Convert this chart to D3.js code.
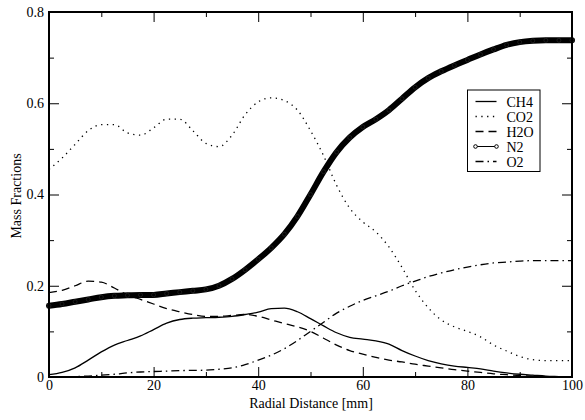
<!DOCTYPE html>
<html>
<head>
<meta charset="utf-8">
<script src="https://cdn.jsdelivr.net/npm/d3@7"></script>
<style>
	body { margin: 0; background: #fff; }
	text { font-family: "Liberation Serif", "Times New Roman", serif; }
</style>
</head>
<body>
<div id="chart"></div>
<script>
"use strict";

//
// Data
//
var radialDistance = [0, 2.5, 5, 7.5, 10, 12.5, 15, 17.5, 20, 22.5,
	25, 27.5, 30, 32.5, 35, 37.5, 40, 42.5, 45, 47.5,
	50, 52.5, 55, 57.5, 60, 62.5, 65, 67.5, 70, 72.5,
	75, 77.5, 80, 82.5, 85, 87.5, 90, 92.5, 95, 97.5, 100];

var ch4 = [0.005, 0.01, 0.02, 0.037, 0.055, 0.07, 0.08, 0.09, 0.104, 0.118,
	0.126, 0.129, 0.13, 0.131, 0.133, 0.137, 0.142, 0.15, 0.151, 0.143,
	0.128, 0.112, 0.097, 0.087, 0.083, 0.079, 0.072, 0.058, 0.046, 0.036,
	0.029, 0.024, 0.021, 0.018, 0.013, 0.009, 0.006, 0.004, 0.002, 0.001, 0];

var co2 = [0.455, 0.48, 0.51, 0.54, 0.553, 0.553, 0.535, 0.53, 0.546, 0.565,
	0.565, 0.54, 0.512, 0.505, 0.53, 0.575, 0.603, 0.612, 0.606, 0.585,
	0.54, 0.485, 0.42, 0.37, 0.34, 0.318, 0.285, 0.24, 0.19, 0.152,
	0.125, 0.11, 0.1, 0.088, 0.07, 0.057, 0.045, 0.038, 0.036, 0.036, 0.036];

var h2o = [0.185, 0.19, 0.2, 0.21, 0.208, 0.195, 0.18, 0.17, 0.16, 0.15,
	0.143, 0.137, 0.133, 0.133, 0.135, 0.137, 0.133, 0.125, 0.117, 0.11,
	0.1, 0.085, 0.07, 0.058, 0.05, 0.043, 0.037, 0.033, 0.028, 0.024,
	0.02, 0.016, 0.013, 0.01, 0.007, 0.005, 0.003, 0.002, 0.001, 0.0005, 0];

var n2 = [0.156, 0.16, 0.165, 0.17, 0.175, 0.178, 0.179, 0.18, 0.18, 0.183,
	0.186, 0.189, 0.192, 0.2, 0.215, 0.235, 0.258, 0.283, 0.313, 0.352,
	0.4, 0.45, 0.493, 0.525, 0.548, 0.565, 0.585, 0.61, 0.635, 0.655,
	0.67, 0.683, 0.695, 0.707, 0.718, 0.728, 0.734, 0.737, 0.738, 0.738, 0.738];

var o2 = [0, 0, 0.001, 0.002, 0.004, 0.006, 0.009, 0.011, 0.012, 0.013,
	0.014, 0.0145, 0.015, 0.017, 0.02, 0.027, 0.037, 0.048, 0.062, 0.08,
	0.1, 0.12, 0.14, 0.155, 0.168, 0.178, 0.188, 0.2, 0.21, 0.22,
	0.228, 0.235, 0.241, 0.246, 0.25, 0.252, 0.254, 0.255, 0.255, 0.255, 0.255];

var seriesNames = ["CH4", "CO2", "H2O", "N2", "O2"];
var seriesValues = [ch4, co2, h2o, n2, o2];

var xMajorTicks = [0, 20, 40, 60, 80, 100];
var xMinorTicks = [10, 30, 50, 70, 90];
var yMajorTicks = [0, 0.2, 0.4, 0.6, 0.8];
var yMinorTicks = [0.1, 0.3, 0.5, 0.7];

//
// Setup Variables
//
var canvasWidth = 585;
var canvasHeight = 420;
var margin = { top: 12, right: 13, bottom: 43, left: 49 };
var width = canvasWidth - margin.left - margin.right;
var height = canvasHeight - margin.top - margin.bottom;

var x = d3.scaleLinear().domain([0, 100]).range([0, width]);
var y = d3.scaleLinear().domain([0, 0.8]).range([height, 0]);

var dashes = {
	CH4: null,
	CO2: "1.3,4.5",
	H2O: "8,5",
	N2: null,
	O2: "8,4,1.5,4"
};

function fmt(d) { return d === 0 ? "0" : d3.format("")(d); }

//
// Draw Canvas
//
var svg = d3.select("#chart")
	.append("svg")
		.attr("width", canvasWidth)
		.attr("height", canvasHeight)
	.append("g")
		.attr("transform", "translate(" + margin.left + "," + margin.top + ")");

//
// Axes (ticks point inward on all four sides)
//
function drawAxis(axis, tf) {
	var g = svg.append("g").attr("transform", tf).call(axis);
	g.select(".domain").remove();
	g.selectAll(".tick line").attr("stroke", "#000").attr("stroke-width", 1);
	g.selectAll("text").attr("fill", "#000").style("font-size", "14px")
		.style("font-family", "'Liberation Serif', 'Times New Roman', serif");
	return g;
}

drawAxis(d3.axisBottom(x).tickValues(xMajorTicks).tickSize(-10).tickPadding(3.5).tickFormat(fmt),
	"translate(0," + height + ")");
drawAxis(d3.axisBottom(x).tickValues(xMinorTicks).tickSize(-5).tickFormat(""),
	"translate(0," + height + ")");
drawAxis(d3.axisTop(x).tickValues(xMajorTicks).tickSize(-10).tickFormat(""), "translate(0,0)");
drawAxis(d3.axisTop(x).tickValues(xMinorTicks).tickSize(-5).tickFormat(""), "translate(0,0)");

drawAxis(d3.axisLeft(y).tickValues(yMajorTicks).tickSize(-10).tickPadding(5).tickFormat(fmt), "translate(0,0)");
drawAxis(d3.axisLeft(y).tickValues(yMinorTicks).tickSize(-5).tickFormat(""), "translate(0,0)");
drawAxis(d3.axisRight(y).tickValues(yMajorTicks).tickSize(-10).tickFormat(""), "translate(" + width + ",0)");
drawAxis(d3.axisRight(y).tickValues(yMinorTicks).tickSize(-5).tickFormat(""), "translate(" + width + ",0)");

//
// Lines
//
var line = d3.line()
	.x(function(d) { return x(d[0]); })
	.y(function(d) { return y(d[1]); })
	.curve(d3.curveMonotoneX);

seriesNames.forEach(function(name, i) {
	var pts = radialDistance.map(function(r, j) { return [r, seriesValues[i][j]]; });
	var path = svg.append("path")
		.datum(pts)
		.attr("fill", "none")
		.attr("stroke", "#000")
		.attr("stroke-width", name === "N2" ? 6 : 1.3)
		.attr("stroke-linejoin", "round")
		.attr("stroke-linecap", name === "N2" ? "round" : "butt")
		.attr("d", line);
	if (dashes[name]) path.attr("stroke-dasharray", dashes[name]);
	if (name === "N2") {
		// markers sit inside the heavy band, as in the dense-marker original
		svg.append("g").selectAll("circle")
			.data(pts)
			.enter().append("circle")
				.attr("cx", function(d) { return x(d[0]); })
				.attr("cy", function(d) { return y(d[1]); })
				.attr("r", 2)
				.attr("fill", "none")
				.attr("stroke", "#222")
				.attr("stroke-width", 0.8);
	}
});

//
// Frame
//
svg.append("rect")
	.attr("width", width)
	.attr("height", height)
	.attr("fill", "none")
	.attr("stroke", "#000")
	.attr("stroke-width", 2);

//
// Axis labels
//
svg.append("text")
	.attr("x", 311 - margin.left)
	.attr("y", 408 - margin.top)
	.attr("text-anchor", "middle")
	.style("font-size", "14px")
	.text("Radial Distance [mm]");

svg.append("text")
	.attr("transform", "translate(" + (21 - margin.left) + "," + (196 - margin.top) + ") rotate(-90)")
	.attr("text-anchor", "middle")
	.style("font-size", "14px")
	.text("Mass Fractions");

//
// Legend
//
var legend = svg.append("g")
	.attr("transform", "translate(" + (467.5 - margin.left) + "," + (90 - margin.top) + ")");

legend.append("rect")
	.attr("width", 72.5)
	.attr("height", 81.5)
	.attr("fill", "#fff")
	.attr("stroke", "#000")
	.attr("stroke-width", 1);

seriesNames.forEach(function(name, i) {
	var ly = 11.5 + i * 15;
	var seg = legend.append("line")
		.attr("x1", 8).attr("x2", 29)
		.attr("y1", ly).attr("y2", ly)
		.attr("stroke", "#000")
		.attr("stroke-width", name === "N2" ? 1 : 1.3);
	if (dashes[name]) seg.attr("stroke-dasharray", dashes[name]);
	if (name === "N2") {
		[8, 29].forEach(function(cx) {
			legend.append("circle")
				.attr("cx", cx).attr("cy", ly).attr("r", 1.8)
				.attr("fill", "#fff").attr("stroke", "#000").attr("stroke-width", 1);
		});
	}
	legend.append("text")
		.attr("x", 39)
		.attr("y", ly + 5)
		.style("font-size", "14px")
		.text(name);
});
</script>
</body>
</html>
